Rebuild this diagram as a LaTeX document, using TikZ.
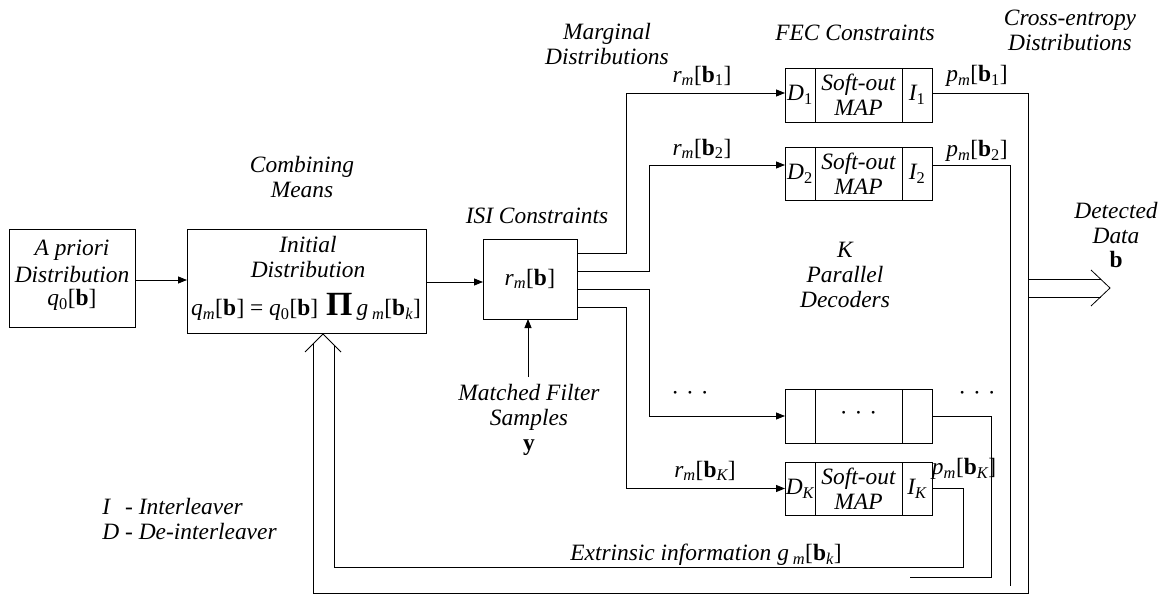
\documentclass[tikz,border=0pt]{standalone}
\usepackage{fontspec}
\setmainfont{Liberation Serif}
\usetikzlibrary{arrows.meta,calc}

% symbols used in the labels
\newcommand{\bvec}{\textup{\bfseries b}}
\newcommand{\lsub}[1]{\textsubscript{#1}}
\newcommand{\dsym}[2]{#1\lsub{\textit{m}}\textup{[}\bvec\lsub{#2}\textup{]}}
\newcommand{\bigprod}{{\fontsize{34}{34}\selectfont\upshape\bfseries Π}}
\newcommand{\rowdots}{\textup{·\hspace{7bp}·\hspace{7bp}·}}

% one decoder row: D cell, soft-out MAP cell, I cell
\newcommand{\decoderrow}[6]{%
  \node[box,minimum width=30bp,minimum height=#3,anchor=west] (#1D) at (785,#2) {#4};
  \node[box,minimum width=87bp,minimum height=#3,anchor=west,align=center] (#1M) at (#1D.east) {#5};
  \node[box,minimum width=30bp,minimum height=#3,anchor=west] (#1I) at (#1M.east) {#6};
}

\begin{document}
\begin{tikzpicture}[x=1bp,y=-1bp,line width=0.8bp,
  font=\fontsize{23.5}{25}\selectfont\itshape,
  box/.style={draw,inner sep=0,outer sep=0},
  lbl/.style={inner sep=0,align=center},
  arr/.style={-{Triangle[length=9bp,width=7bp]}}]
\useasboundingbox (0,0) rectangle (1162,595);

% ---- main blocks
\node[box,minimum width=126bp,minimum height=98bp] (apri) at (72,278) {};
\node[lbl] (apriA) at (72,250) {A priori};
\node[lbl] (apriB) at (72,275) {Distribution};
\node[lbl] (apriC) at (72,300) {q\lsub{\textup{0}}\textup{[}\bvec\textup{]}};

\node[box,minimum width=239bp,minimum height=104bp] (init) at (306.5,281) {};
\node[lbl] (initA) at (308,244) {Initial};
\node[lbl] (initB) at (308,270) {Distribution};
\node[lbl] (initC) at (306,307) {\dsym{q}{}\textup{ = }q\lsub{\textup{0}}\textup{[}\bvec\textup{]}\hspace{8bp}\bigprod\,g\,\lsub{\textit{m}}\textup{[}\bvec\lsub{\textit{k}}\textup{]}};

\node[box,minimum width=94bp,minimum height=80bp] (isi) at (530,279) {\dsym{r}{}};

% ---- decoder rows
\decoderrow{da}{95}{54bp}{D\lsub{\textup{1}}}{Soft-out\\MAP}{I\lsub{\textup{1}}}
\decoderrow{db}{173.5}{53bp}{D\lsub{\textup{2}}}{Soft-out\\MAP}{I\lsub{\textup{2}}}
\decoderrow{dc}{416}{54bp}{}{\rowdots}{}
\decoderrow{dk}{488.5}{53bp}{D\lsub{K}}{Soft-out\\MAP}{I\lsub{K}}

% ---- headings and labels
\node[lbl] (hMarg) at (607,44) {Marginal\\Distributions};
\node[lbl] (hFec) at (855,33) {FEC Constraints};
\node[lbl] (hCross) at (1070,30) {Cross-entropy\\Distributions};
\node[lbl] (hComb) at (302,177) {Combining\\Means};
\node[lbl] (hIsi) at (537,216) {ISI Constraints};
\node[lbl] (hPar) at (845,275) {K\\Parallel\\Decoders};
\node[lbl] (hDet) at (1116,235) {Detected\\Data\\\bvec};
\node[lbl] (hMf) at (529,420) {Matched Filter\\Samples\\\textup{\bfseries y}};
\node[lbl,align=left,anchor=west] (legend) at (102,519) {I\hspace{15bp}- Interleaver\\D - De-interleaver};
\node[lbl,anchor=east] (hExt) at (842,555) {Extrinsic information\hspace{6bp}g\,\lsub{\textit{m}}\textup{[}\bvec\lsub{\textit{k}}\textup{]}};

\node[lbl] (ra) at (702,76) {\dsym{r}{\textup{1}}};
\node[lbl] (rb) at (702,149) {\dsym{r}{\textup{2}}};
\node[lbl] (rk) at (705,471) {\dsym{r}{K}};
\node[lbl] (pa) at (977,76) {\dsym{p}{\textup{1}}};
\node[lbl] (pb) at (977,151) {\dsym{p}{\textup{2}}};
\node[lbl] (pk) at (964,469) {\dsym{p}{K}};
\node[lbl] (dotsL) at (690,396) {\rowdots};
\node[lbl] (dotsR) at (977,396) {\rowdots};

% ---- forward connections
\draw[arr] (apri.east |- 0,280) -- (init.west |- 0,280);
\draw[arr] (init.east |- 0,282) -- (isi.west |- 0,282);
\coordinate (mfTop) at (528,377);
\draw[arr] (mfTop) -- (isi.south -| mfTop);

\coordinate (o1) at ($(isi.north east)+(0,14)$);
\coordinate (o2) at ($(isi.north east)+(0,32)$);
\coordinate (o3) at ($(isi.north east)+(0,50)$);
\coordinate (o4) at ($(isi.north east)+(0,68)$);
\coordinate (xa) at (626,0);
\coordinate (xb) at (649,0);
\coordinate (inA) at ($(daD.west)+(0,-2)$);
\coordinate (inB) at ($(dbD.west)+(0,-8.5)$);
\draw[arr] (o1) -| (xa |- inA) -- (inA);
\draw[arr] (o2) -| (xb |- inB) -- (inB);
\draw[arr] (o3) -| (xb |- dcD.west) -- (dcD.west);
\draw[arr] (o4) -| (xa |- dkD.west) -- (dkD.west);

% ---- outputs of the decoders
\coordinate (fbTip) at (323,334);
\coordinate (fbOut) at (313,344);
\coordinate (fbIn) at (334,345);
\coordinate (outB) at ($(dbI.east)+(0,-8.5)$);
\draw (daI.east |- inA) -| (1028,593) -| (fbOut);
\draw (outB) -| (1010,586);
\draw (dcI.east) -| (991,577) -- (910,577);
\draw (dkI.east) -| (963,567) -| (fbIn);
% open head of the feedback path
\draw (305,352) -- (fbTip) -- (341,352);

% detected data output
\coordinate (detTip) at (1110,288);
\draw (1028,279) -- (1101,279);
\draw (1028,297) -- (1101,297);
\draw (1091,270) -- (detTip) -- (1091,306);
\end{tikzpicture}
\end{document}
